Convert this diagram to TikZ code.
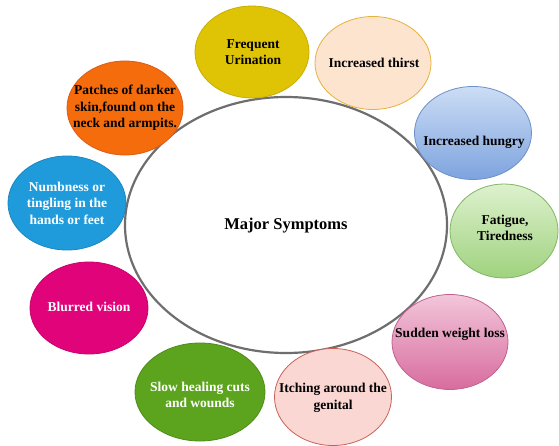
\documentclass[tikz,border=0pt]{standalone}
\usepackage{fontspec}
\setmainfont{Liberation Serif}
\usetikzlibrary{shapes.geometric}
\definecolor{cgray}{HTML}{6E6E6E}
\definecolor{cyellow}{HTML}{DEC404}
\definecolor{cyellowb}{HTML}{C8AE00}
\definecolor{cpeach}{HTML}{FDE4CF}
\definecolor{cpeachb}{HTML}{E6B23C}
\definecolor{cbluetop}{HTML}{CCDDF5}
\definecolor{cbluebot}{HTML}{7DA3DE}
\definecolor{cblueb}{HTML}{6F90C8}
\definecolor{cgreentop}{HTML}{DDF1CD}
\definecolor{cgreenbot}{HTML}{9FD27E}
\definecolor{cgreenb}{HTML}{82B564}
\definecolor{cpinktop}{HTML}{F2C6DA}
\definecolor{cpinkbot}{HTML}{D86C9E}
\definecolor{cpinkb}{HTML}{BE6190}
\definecolor{citch}{HTML}{FAD7D2}
\definecolor{citchb}{HTML}{C96158}
\definecolor{cslow}{HTML}{5CA41E}
\definecolor{cslowb}{HTML}{4E8C1A}
\definecolor{cblur}{HTML}{E0037A}
\definecolor{cblurb}{HTML}{C8026C}
\definecolor{cnumb}{HTML}{1F9BDB}
\definecolor{cnumbb}{HTML}{1A86C0}
\definecolor{corange}{HTML}{F46C0C}
\definecolor{corangeb}{HTML}{E05A14}
\tikzset{
  sat/.style={ellipse, inner sep=0pt, line width=0.8pt},
  lbl/.style={font=\fontsize{13.5}{16.5}\selectfont\bfseries, align=center, inner sep=0pt},
}
\begin{document}
\begin{tikzpicture}[x=1pt,y=-1pt]
\useasboundingbox[fill=white] (0,0) rectangle (559,446);
% central ellipse
\node[ellipse, draw=cgray, line width=2.2pt, fill=white, minimum width=322pt, minimum height=256pt, inner sep=0pt] (main) at (286,225) {};
\node[lbl, font=\fontsize{16.5}{20}\selectfont\bfseries] (maint) at (286,226) {Major Symptoms};
% satellites
\node[sat, draw=cyellowb, fill=cyellow, minimum width=114pt, minimum height=92pt] (urin) at (252,52) {};
\node[lbl] (urint) at (253,52) {Frequent\\Urination};
\node[sat, draw=cpeachb, fill=cpeach, minimum width=116pt, minimum height=93pt] (thirst) at (373,63) {};
\node[lbl] (thirstt) at (374,63) {Increased thirst};
\node[sat, draw=cblueb, top color=cbluetop, bottom color=cbluebot, minimum width=117pt, minimum height=93pt] (hung) at (473,133) {};
\node[lbl] (hungt) at (474,142) {Increased hungry};
\node[sat, draw=cgreenb, top color=cgreentop, bottom color=cgreenbot, minimum width=108pt, minimum height=94pt] (fat) at (504,231) {};
\node[lbl] (fatt) at (505,228) {Fatigue,\\Tiredness};
\node[sat, draw=cpinkb, top color=cpinktop, bottom color=cpinkbot, minimum width=116pt, minimum height=95pt] (loss) at (450,342) {};
\node[lbl] (losst) at (450,334) {Sudden weight loss};
\node[sat, draw=citchb, fill=citch, minimum width=117pt, minimum height=97pt] (itch) at (333,397) {};
\node[lbl] (itcht) at (333,398) {Itching around the\\genital};
\node[sat, draw=cslowb, fill=cslow, minimum width=130pt, minimum height=98pt] (slow) at (200,392) {};
\node[lbl, text=white] (slowt) at (200,395) {Slow healing cuts\\and wounds};
\node[sat, draw=cblurb, fill=cblur, minimum width=118pt, minimum height=92pt] (blur) at (89,308) {};
\node[lbl, text=white] (blurt) at (89,307) {Blurred vision};
\node[sat, draw=cnumbb, fill=cnumb, minimum width=118pt, minimum height=94pt] (numb) at (67,203) {};
\node[lbl, text=white] (numbt) at (67,203) {Numbness or\\tingling in the\\hands or feet};
\node[sat, draw=corangeb, fill=corange, minimum width=116pt, minimum height=94pt] (patch) at (125,108) {};
\node[lbl] (patcht) at (125,108) {Patches of darker\\skin,found on the\\neck and armpits.};
\end{tikzpicture}
\end{document}
